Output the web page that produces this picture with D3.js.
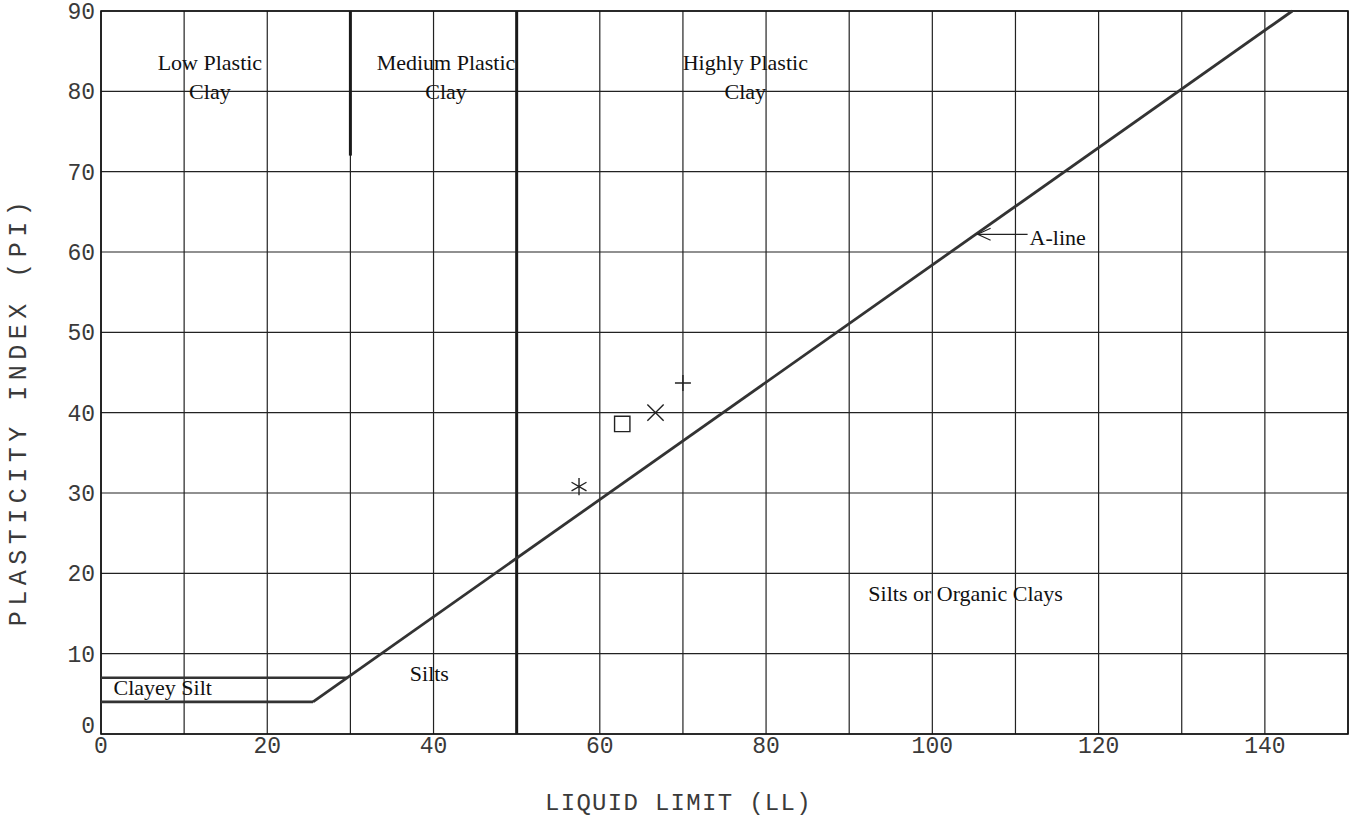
<!DOCTYPE html>
<html>
<head>
<meta charset="utf-8">
<script src="https://cdn.jsdelivr.net/npm/d3@7"></script>
<style>
  html, body { margin: 0; padding: 0; background: #fff; }
  svg { display: block; }
  .tick-label { font-family: "Liberation Mono", "DejaVu Sans Mono", monospace; font-size: 23px; fill: #3a3a3a; }
  .axis-title { font-family: "Liberation Mono", "DejaVu Sans Mono", monospace; fill: #3a3a3a; }
  .ann { font-family: "Liberation Serif", "Times New Roman", serif; font-size: 22px; fill: #111; }
</style>
</head>
<body>
<svg id="chart" width="1356" height="817"></svg>
<script>
// ---- data ----
const xDomain = [0, 150];
const yDomain = [0, 90];
const xGrid = d3.range(0, 151, 10);
const yGrid = d3.range(0, 91, 10);
const xTickLabels = [0, 20, 40, 60, 80, 100, 120, 140];
const yTickLabels = [0, 10, 20, 30, 40, 50, 60, 70, 80, 90];

// A-line: PI = 0.73 (LL - 20), drawn from PI = 4 up to PI = 90
const aLine = [[25.5, 4], [143.3, 90]];
// lower horizontal limits (Clayey Silt band)
const band4 = [[0, 4], [25.5, 4]];
const band7 = [[0, 7], [29.6, 7]];
// thick LL boundaries
const boundary50 = [[50, 0], [50, 90]];
const boundary30 = [[30, 72], [30, 90]];

// test points: [LL, PI, marker]
const samples = [
  [57.5, 30.8, "asterisk"],
  [62.7, 38.6, "square"],
  [66.7, 40.0, "x"],
  [70.0, 43.7, "plus"]
];

// zone labels: [text, LL, PI(baseline)]
const zoneLabels = [
  ["Low Plastic", 13.1, 82.6],
  ["Clay", 13.1, 79.0],
  ["Medium Plastic", 41.5, 82.6],
  ["Clay", 41.5, 79.0],
  ["Highly Plastic", 77.5, 82.6],
  ["Clay", 77.5, 79.0],
  ["Silts", 39.5, 6.6],
  ["Clayey Silt", 1.5, 4.8],
  ["Silts or Organic Clays", 104.0, 16.6]
];
const aLineLabel = { text: "A-line", pi: 62.2, textLL: 111.7 };

const xTitle = "LIQUID LIMIT (LL)";
const yTitle = "PLASTICITY INDEX (PI)";

// ---- drawing ----
const svg = d3.select("#chart");
const mLeft = 101, mRight = 1348, mTop = 11, mBottom = 734;
const x = d3.scaleLinear().domain(xDomain).range([mLeft, mRight]);
const y = d3.scaleLinear().domain(yDomain).range([mBottom, mTop]);
const line = d3.line().x(d => x(d[0])).y(d => y(d[1]));

// grid
svg.append("g").selectAll("line").data(xGrid).join("line")
  .attr("x1", d => x(d)).attr("x2", d => x(d))
  .attr("y1", y(0)).attr("y2", y(90))
  .attr("stroke", "#222").attr("stroke-width", 1.2);
svg.append("g").selectAll("line").data(yGrid).join("line")
  .attr("y1", d => y(d)).attr("y2", d => y(d))
  .attr("x1", x(0)).attr("x2", x(150))
  .attr("stroke", "#222").attr("stroke-width", 1.2);
svg.append("rect")
  .attr("x", x(0)).attr("y", y(90))
  .attr("width", x(150) - x(0)).attr("height", y(0) - y(90))
  .attr("fill", "none").attr("stroke", "#111").attr("stroke-width", 1.6);

// tick labels
svg.append("g").selectAll("text").data(xTickLabels).join("text")
  .attr("class", "tick-label")
  .attr("x", d => x(d)).attr("y", y(0) + 19)
  .attr("text-anchor", "middle")
  .text(d => d);
svg.append("g").selectAll("text").data(yTickLabels).join("text")
  .attr("class", "tick-label")
  .attr("x", x(0) - 6)
  .attr("y", d => y(d) + (d === 0 ? -1 : 8))
  .attr("text-anchor", "end")
  .text(d => d);

// axis titles
svg.append("text").attr("class", "axis-title")
  .attr("x", 545).attr("y", 810)
  .attr("font-size", 24).attr("letter-spacing", 1.3)
  .text(xTitle);
svg.append("text").attr("class", "axis-title")
  .attr("transform", `translate(26, 411) rotate(-90)`)
  .attr("text-anchor", "middle")
  .attr("font-size", 25).attr("letter-spacing", 5.5)
  .text(yTitle);

// boundaries
const heavy = "#1a1a1a";
[boundary50, boundary30].forEach(b => {
  svg.append("path").attr("d", line(b))
    .attr("stroke", heavy).attr("stroke-width", 3).attr("fill", "none");
});
[band4, band7].forEach(b => {
  svg.append("path").attr("d", line(b))
    .attr("stroke", "#333").attr("stroke-width", 2.6).attr("fill", "none");
});
svg.append("path").attr("d", line(aLine))
  .attr("stroke", "#333").attr("stroke-width", 2.8).attr("fill", "none");

// A-line label and arrow
const aLL = 20 + aLineLabel.pi / 0.73;
const ax0 = x(aLL) + 2, ay = y(aLineLabel.pi), ax1 = x(aLineLabel.textLL) - 2;
svg.append("line").attr("x1", ax0).attr("x2", ax1).attr("y1", ay).attr("y2", ay)
  .attr("stroke", "#222").attr("stroke-width", 1.2);
svg.append("path")
  .attr("d", `M${ax0 + 13},${ay - 6} L${ax0},${ay} L${ax0 + 13},${ay + 6}`)
  .attr("stroke", "#222").attr("stroke-width", 1.2).attr("fill", "none");
svg.append("text").attr("class", "ann")
  .attr("x", x(aLineLabel.textLL)).attr("y", ay + 11)
  .text(aLineLabel.text);

// zone labels
svg.append("g").selectAll("text").data(zoneLabels).join("text")
  .attr("class", "ann")
  .attr("x", d => x(d[1])).attr("y", d => y(d[2]))
  .attr("text-anchor", d => d[0] === "Clayey Silt" ? "start" : "middle")
  .text(d => d[0]);

// samples
const symbolMap = {
  asterisk: [d3.symbolAsterisk, 210],
  square: [d3.symbolSquare2, 300],
  x: [d3.symbolX, 175],
  plus: [d3.symbolPlus, 85]
};
svg.append("g").selectAll("path").data(samples).join("path")
  .attr("transform", d => `translate(${x(d[0])},${y(d[1])})`)
  .attr("d", d => d3.symbol().type(symbolMap[d[2]][0]).size(symbolMap[d[2]][1])())
  .attr("fill", "none").attr("stroke", "#222").attr("stroke-width", 1.4);
</script>
</body>
</html>
